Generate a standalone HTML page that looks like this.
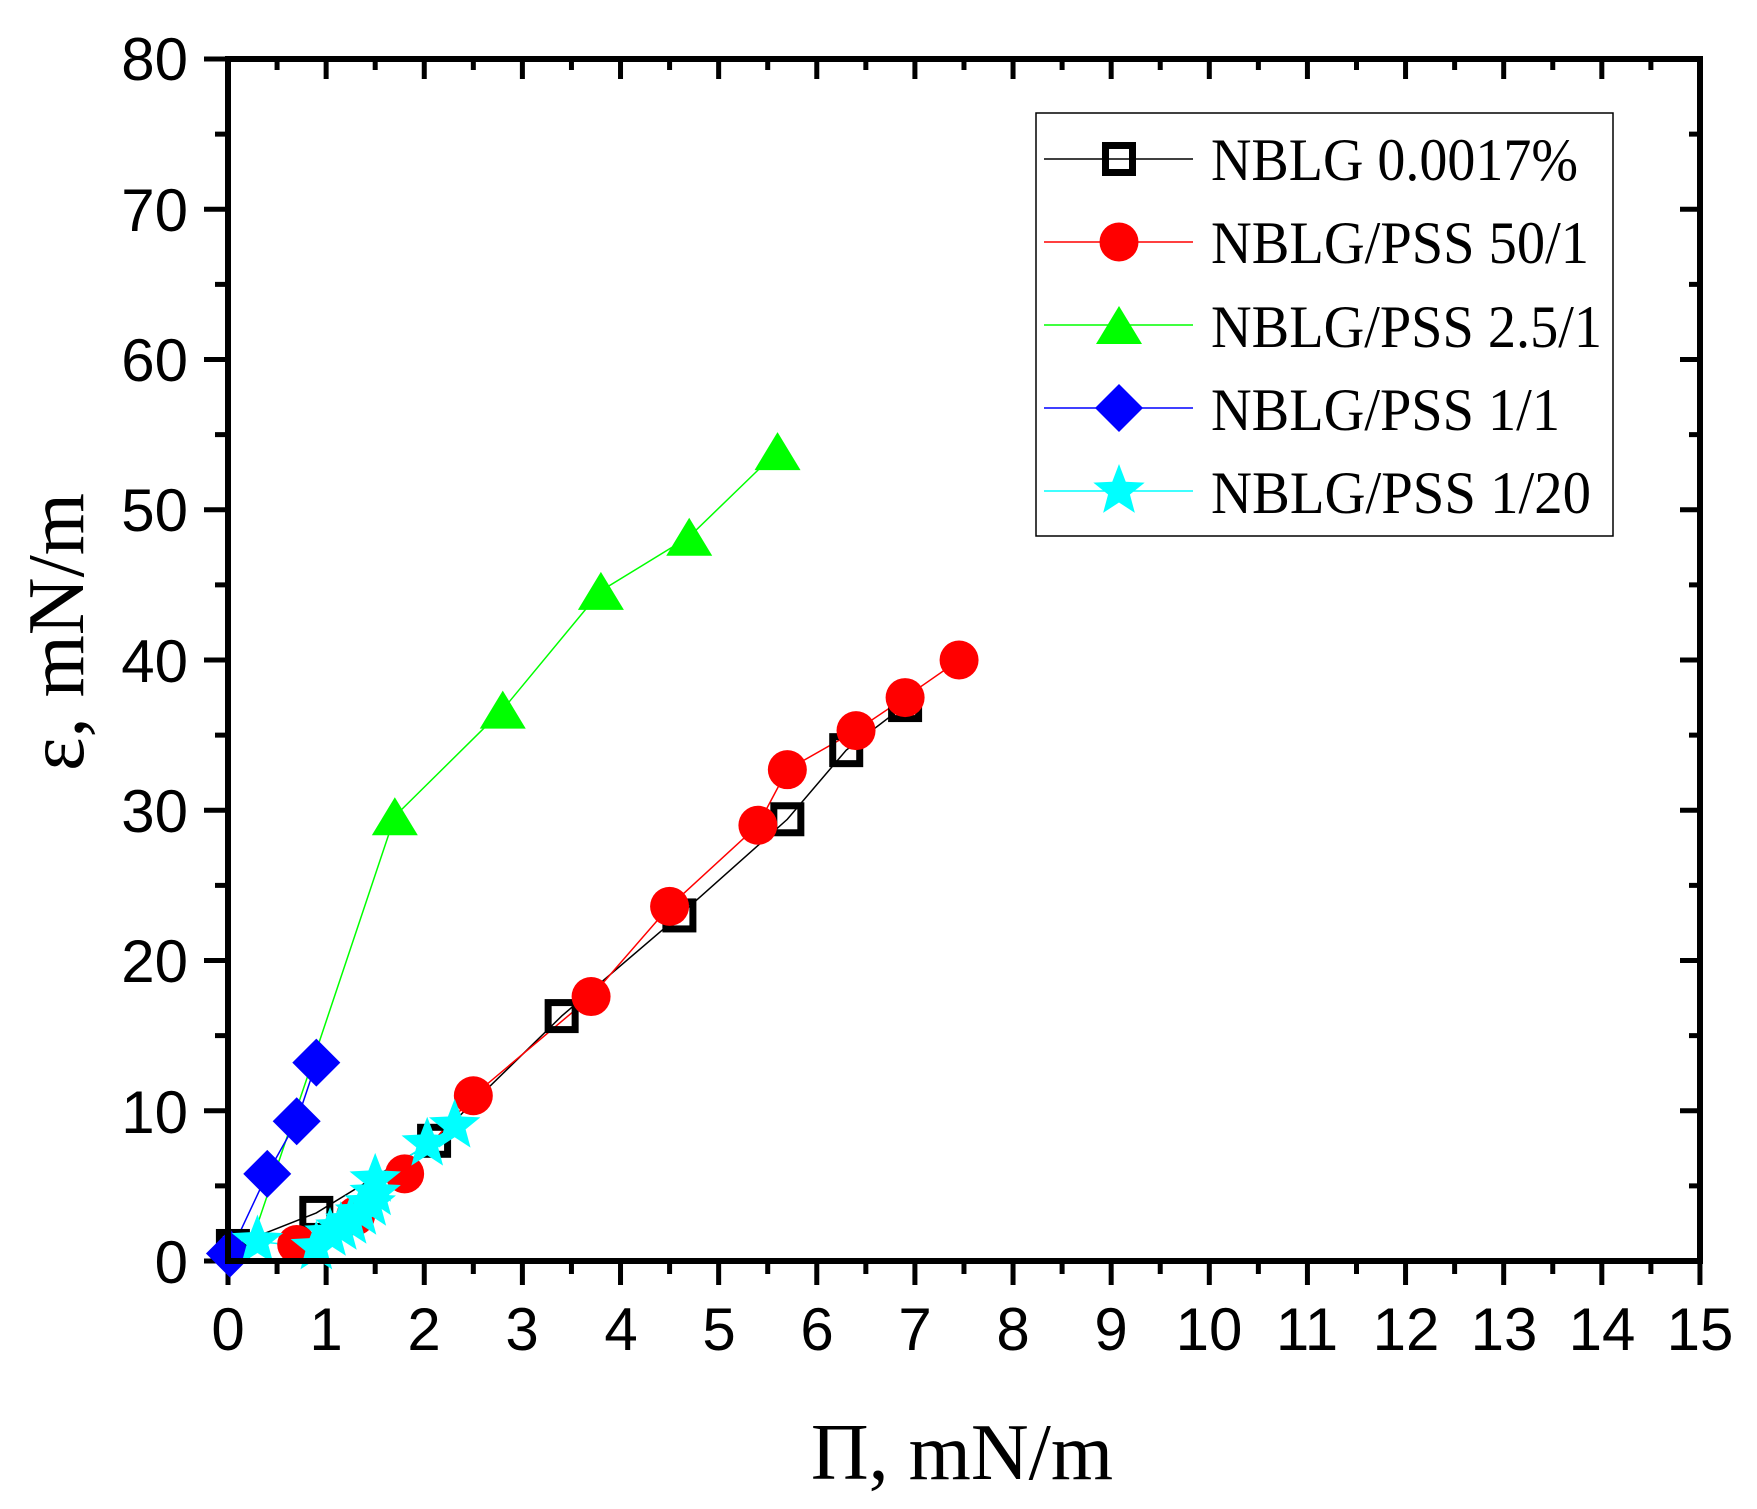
<!DOCTYPE html>
<html><head><meta charset="utf-8"><style>
html,body{margin:0;padding:0;background:#fff;}
svg{display:block;}
.tk{font-family:"Liberation Sans",sans-serif;font-size:60px;fill:#000;}
.sf{font-family:"Liberation Serif",serif;fill:#000;}
</style></head><body>
<svg id="s" width="1757" height="1509" viewBox="0 0 1757 1509" xmlns="http://www.w3.org/2000/svg">
<g id="ticks" stroke="#000" stroke-width="5"></g>
<g id="data"></g>
<rect x="228" y="59" width="1472" height="1202" fill="none" stroke="#000" stroke-width="6"/>
<g class="tk" text-anchor="middle">
<text x="228" y="1350">0</text><text x="326" y="1350">1</text><text x="424" y="1350">2</text><text x="522" y="1350">3</text><text x="621" y="1350">4</text><text x="719" y="1350">5</text><text x="817" y="1350">6</text><text x="915" y="1350">7</text><text x="1013" y="1350">8</text><text x="1111" y="1350">9</text><text x="1209" y="1350">10</text><text x="1307" y="1350">11</text><text x="1406" y="1350">12</text><text x="1504" y="1350">13</text><text x="1602" y="1350">14</text><text x="1700" y="1350">15</text>
</g>
<g class="tk" text-anchor="end">
<text x="188" y="1283">0</text><text x="188" y="1133">10</text><text x="188" y="982">20</text><text x="188" y="832">30</text><text x="188" y="682">40</text><text x="188" y="531">50</text><text x="188" y="381">60</text><text x="188" y="231">70</text><text x="188" y="80">80</text>
</g>
<text class="sf" x="962" y="1479" font-size="80" text-anchor="middle">Π, mN/m</text>
<text class="sf" transform="translate(83,632) rotate(-90)" font-size="80" text-anchor="middle">ε, mN/m</text>
<rect x="1036" y="113" width="577" height="423" fill="#fff" stroke="#000" stroke-width="1.5"/>
<g id="leg"></g>
<g class="sf" font-size="60">
<text x="1211" y="180" textLength="367" lengthAdjust="spacingAndGlyphs">NBLG 0.0017%</text>
<text x="1211" y="263" textLength="378" lengthAdjust="spacingAndGlyphs">NBLG/PSS 50/1</text>
<text x="1211" y="347" textLength="391" lengthAdjust="spacingAndGlyphs">NBLG/PSS 2.5/1</text>
<text x="1211" y="430" textLength="349" lengthAdjust="spacingAndGlyphs">NBLG/PSS 1/1</text>
<text x="1211" y="513" textLength="380" lengthAdjust="spacingAndGlyphs">NBLG/PSS 1/20</text>
</g>
</svg>
<script>
var NS="http://www.w3.org/2000/svg";
function X(v){return 228+v*98.13;} function Y(v){return 1261-v*15.025;}
function el(p,t,a){var e=document.createElementNS(NS,t);for(var k in a)e.setAttribute(k,a[k]);p.appendChild(e);return e;}
var tg=document.getElementById('ticks');
for(var i=0;i<=30;i++){var x=X(i/2),maj=i%2==0;
 el(tg,'line',{x1:x,x2:x,y1:1261,y2:1261+(maj?24:13)});
 el(tg,'line',{x1:x,x2:x,y1:59,y2:59+(maj?20:11)});}
for(var i=0;i<=16;i++){var y=Y(i*5),maj=i%2==0;
 el(tg,'line',{x1:228,x2:228-(maj?24:13),y1:y,y2:y});
 el(tg,'line',{x1:1700,x2:1700-(maj?20:11),y1:y,y2:y});}
function mk(g,type,x,y,c){
 if(type=='sq')el(g,'rect',{x:x-13.5,y:y-13.5,width:27,height:27,fill:'none',stroke:'#000','stroke-width':7});
 else if(type=='ci')el(g,'circle',{cx:x,cy:y,r:19.5,fill:c});
 else if(type=='tr')el(g,'polygon',{points:(x-23)+','+(y+19)+' '+(x+23)+','+(y+19)+' '+x+','+(y-19),fill:c});
 else if(type=='di')el(g,'polygon',{points:(x-24)+','+y+' '+x+','+(y-24)+' '+(x+24)+','+y+' '+x+','+(y+24),fill:c});
 else if(type=='st'){var p=[];for(var k=0;k<10;k++){var r=k%2?11.5:27,a=-Math.PI/2+k*Math.PI/5;p.push((x+r*Math.cos(a))+','+(y+r*Math.sin(a)));}el(g,'polygon',{points:p.join(' '),fill:c});}
}
var S=[
 ['sq','#000',[[0.05,1],[0.9,3.2],[2.1,8],[3.4,16.3],[4.6,23],[5.7,29.4],[6.3,34],[6.9,37]]],
 ['ci','#ff0000',[[0.7,1.1],[1.3,3],[1.8,5.8],[2.5,11],[3.7,17.6],[4.5,23.6],[5.4,29],[5.7,32.7],[6.4,35.3],[6.9,37.5],[7.45,40]]],
 ['tr','#00ff00',[[0.2,0.5],[0.9,14],[1.7,29.6],[2.8,36.7],[3.8,44.6],[4.7,48.2],[5.6,53.9]]],
 ['di','#0000ff',[[0.02,0.5],[0.4,5.8],[0.7,9.3],[0.9,13.2]]],
 ['st','#00ffff',[[0.3,1.3],[0.9,0.9],[1.04,1.8],[1.15,2.2],[1.25,2.6],[1.35,3.2],[1.45,3.8],[1.5,4.5],[1.5,5.4],[2.03,7.8],[2.31,9]]]
];
var dg=document.getElementById('data'),lg=document.getElementById('leg');
S.forEach(function(s){el(dg,'polyline',{points:s[2].map(function(p){return X(p[0])+','+Y(p[1]);}).join(' '),fill:'none',stroke:s[1],'stroke-width':1.5});});
S.forEach(function(s){s[2].forEach(function(p,j){if(s[0]=='tr'&&j<2)return;mk(dg,s[0],X(p[0]),Y(p[1]),s[1]);});});
var ly=[159,242,325,408,491];
S.forEach(function(s,i){el(lg,'line',{x1:1044,x2:1193,y1:ly[i],y2:ly[i],stroke:s[1],'stroke-width':1.5});mk(lg,s[0],1119,ly[i],s[1]);});
</script>
</body></html>
